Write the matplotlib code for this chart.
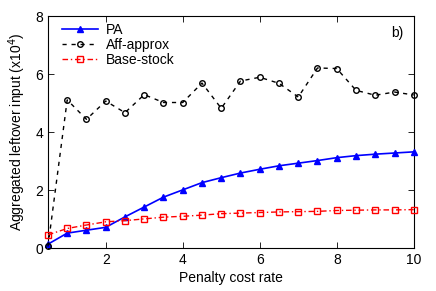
import matplotlib
matplotlib.use("Agg")
import matplotlib.pyplot as plt

plt.rcParams['font.family'] = ['Liberation Sans', 'DejaVu Sans']

x = [0.5, 1, 1.5, 2, 2.5, 3, 3.5, 4, 4.5, 5, 5.5, 6, 6.5, 7, 7.5, 8, 8.5, 9, 9.5, 10]
pa = [0.14, 0.52, 0.62, 0.72, 1.08, 1.42, 1.76, 2.01, 2.26, 2.43, 2.59, 2.72, 2.84, 2.93, 3.02, 3.12, 3.19, 3.24, 3.28, 3.32]
aff = [0.06, 5.11, 4.44, 5.07, 4.67, 5.29, 5.02, 5.02, 5.69, 4.82, 5.76, 5.89, 5.68, 5.21, 6.21, 6.19, 5.44, 5.27, 5.38, 5.28]
base = [0.46, 0.68, 0.80, 0.91, 0.95, 1.01, 1.07, 1.10, 1.14, 1.19, 1.21, 1.23, 1.25, 1.26, 1.27, 1.30, 1.31, 1.32, 1.32, 1.33]

fig = plt.figure(figsize=(4.36, 2.91), dpi=100)
ax = fig.add_axes([0.110, 0.147, 0.839, 0.798])

ax.plot(x, pa, color='blue', linestyle='-', linewidth=1.2, marker='^', markersize=4.5,
        markerfacecolor='blue', markeredgecolor='blue', label='PA', clip_on=False, zorder=3)
ax.plot(x, aff, color='black', linestyle=(0, (3, 3.5)), linewidth=1.0, marker='o', markersize=4,
        markerfacecolor='none', markeredgecolor='black', markeredgewidth=1.0, label='Aff-approx',
        clip_on=False, zorder=3)
ax.plot(x, base, color='red', linestyle=(0, (4, 2, 1, 2)), linewidth=1.0, marker='s', markersize=4,
        markerfacecolor='none', markeredgecolor='red', markeredgewidth=1.0, label='Base-stock',
        clip_on=False, zorder=3)

ax.set_xlim(0.5, 10)
ax.set_ylim(0, 8)
ax.set_xticks([2, 4, 6, 8, 10])
ax.set_yticks([0, 2, 4, 6, 8])
ax.tick_params(direction='in', top=True, right=True, labelsize=10, length=4, width=0.6)
for s in ax.spines.values():
    s.set_linewidth(0.8)

ax.set_xlabel('Penalty cost rate', fontsize=10, labelpad=3)
ax.set_ylabel('Aggregated leftover input (x10$^4$)', fontsize=10, labelpad=5)
ax.text(9.57, 7.42, 'b)', fontsize=10, ha='center', va='center')

ax.legend(loc='upper left', frameon=False, fontsize=10, handlelength=2.6,
          borderaxespad=0.1, labelspacing=0.08, handletextpad=0.55, bbox_to_anchor=(0.02, 1.0))

fig.savefig('out.png', dpi=100)
